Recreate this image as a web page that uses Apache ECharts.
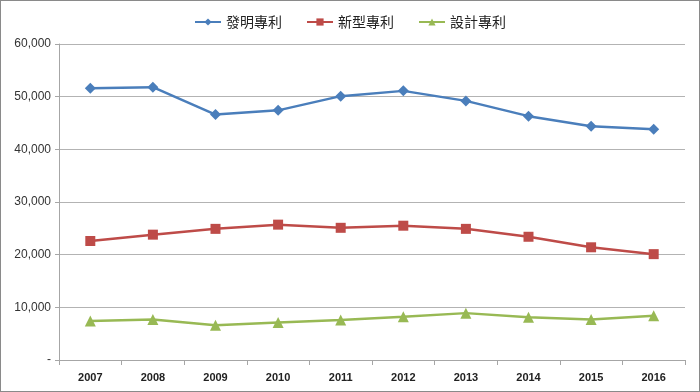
<!DOCTYPE html>
<html><head><meta charset="utf-8">
<script src="https://cdn.jsdelivr.net/npm/echarts@6/dist/echarts.min.js"></script>
<style>
html,body{margin:0;padding:0;background:#fff;}
#c{width:698px;height:390px;border:1px solid #8a8a8a;}
</style></head>
<body><div id="c"></div>
<script>
const years = ['2007','2008','2009','2010','2011','2012','2013','2014','2015','2016'];
const inventionPatent = [51600, 51800, 46600, 47400, 50100, 51100, 49200, 46300, 44400, 43800];
const utilityPatent = [22600, 23800, 24900, 25700, 25100, 25500, 24900, 23400, 21400, 20100];
const designPatent = [7400, 7700, 6600, 7100, 7600, 8200, 8900, 8100, 7700, 8400];
const seriesNames = ['發明專利','新型專利','設計專利'];
const colors = ['#4a7ebb','#be4b48','#98b954'];

const chart = echarts.init(document.getElementById('c'));
const mk = (name, data, color, symbol, size) => ({
  name, type:'line', data, symbol, symbolSize:size,
  lineStyle:{width:2.5,color}, itemStyle:{color}, color
});
chart.setOption({
  animation:false,
  textStyle:{fontFamily:'"Noto Sans CJK TC", "Liberation Sans", sans-serif'},
  legend:{
    top:9, left:'center', itemWidth:26, itemHeight:9, itemGap:24,
    textStyle:{fontSize:14,color:'#222',fontFamily:'"Noto Sans CJK TC", sans-serif'},
    data:seriesNames
  },
  grid:{left:58, right:14, top:43, bottom:31},
  xAxis:{
    type:'category', data:years, boundaryGap:true,
    axisLine:{lineStyle:{color:'#a6a6a6'}},
    axisTick:{show:true, length:5, lineStyle:{color:'#a6a6a6'}},
    axisLabel:{fontSize:11, fontWeight:'bold', color:'#222', margin:12, fontFamily:'"Liberation Sans", sans-serif'}
  },
  yAxis:{
    type:'value', min:0, max:60000, interval:10000,
    axisLine:{show:true, lineStyle:{color:'#a6a6a6'}},
    axisTick:{show:true, length:4, lineStyle:{color:'#a6a6a6'}},
    splitLine:{lineStyle:{color:'#b3b3b3'}},
    axisLabel:{fontSize:12, color:'#333', margin:8, fontFamily:'"Liberation Sans", sans-serif',
      formatter:v => v===0 ? '-' : v.toLocaleString('en-US')}
  },
  series:[
    mk(seriesNames[0], inventionPatent, colors[0], 'diamond', 11),
    mk(seriesNames[1], utilityPatent, colors[1], 'rect', 10),
    mk(seriesNames[2], designPatent, colors[2], 'triangle', 11)
  ]
});
</script></body></html>
